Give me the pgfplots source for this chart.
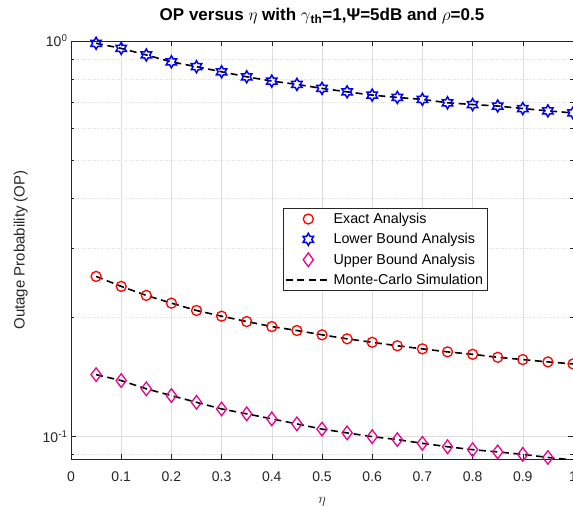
\documentclass[border=0pt]{standalone}
\usepackage{pgfplots}
\pgfplotsset{compat=1.18}
\usepackage{pgfplotstable}
\usepackage{fontspec}
\setmainfont{Liberation Sans}

\pgfdeclareplotmark{hexagram}{%
  \pgfpathmoveto{\pgfpointpolar{90}{\pgfplotmarksize}}%
  \pgfpathlineto{\pgfpointpolar{120}{0.577\pgfplotmarksize}}%
  \pgfpathlineto{\pgfpointpolar{150}{\pgfplotmarksize}}%
  \pgfpathlineto{\pgfpointpolar{180}{0.577\pgfplotmarksize}}%
  \pgfpathlineto{\pgfpointpolar{210}{\pgfplotmarksize}}%
  \pgfpathlineto{\pgfpointpolar{240}{0.577\pgfplotmarksize}}%
  \pgfpathlineto{\pgfpointpolar{270}{\pgfplotmarksize}}%
  \pgfpathlineto{\pgfpointpolar{300}{0.577\pgfplotmarksize}}%
  \pgfpathlineto{\pgfpointpolar{330}{\pgfplotmarksize}}%
  \pgfpathlineto{\pgfpointpolar{0}{0.577\pgfplotmarksize}}%
  \pgfpathlineto{\pgfpointpolar{30}{\pgfplotmarksize}}%
  \pgfpathlineto{\pgfpointpolar{60}{0.577\pgfplotmarksize}}%
  \pgfpathclose
  \pgfusepathqstroke}

\pgfplotstableread{
x     exact   lower  upper
0.05  0.2541  0.987  0.1435
0.10  0.2398  0.958  0.1386
0.15  0.2275  0.922  0.1321
0.20  0.2175  0.886  0.1270
0.25  0.2084  0.861  0.1221
0.30  0.2016  0.836  0.1175
0.35  0.1954  0.812  0.1142
0.40  0.1898  0.792  0.1109
0.45  0.1855  0.777  0.1077
0.50  0.1809  0.759  0.1045
0.55  0.1767  0.744  0.1022
0.60  0.1732  0.730  0.1000
0.65  0.1697  0.720  0.0983
0.70  0.1667  0.712  0.0962
0.75  0.1638  0.698  0.0943
0.80  0.1615  0.691  0.0927
0.85  0.1587  0.685  0.0915
0.90  0.1566  0.675  0.0902
0.95  0.1545  0.666  0.0886
1.00  0.1527  0.658  0.0873
}\data

\definecolor{axgray}{rgb}{0.15,0.15,0.15}
\definecolor{gridgray}{rgb}{0.87,0.87,0.87}

\begin{document}
\begin{tikzpicture}
\begin{axis}[
  at={(0,0)}, anchor=south west,
  scale only axis, width=502pt, height=418pt,
  xmin=0, xmax=1, ymode=log, ymin=0.0878, ymax=1,
  xtick={0,0.1,0.2,0.3,0.4,0.5,0.6,0.7,0.8,0.9,1},
  xticklabels={0,0.1,0.2,0.3,0.4,0.5,0.6,0.7,0.8,0.9,1},
  ytick={0.1,1},
  yticklabels={10\textsuperscript{-1},10\textsuperscript{0}},
  minor ytick={0.09,0.2,0.3,0.4,0.5,0.6,0.7,0.8,0.9},
  grid=both,
  major grid style={gridgray, line width=0.6pt},
  minor grid style={gridgray, dotted, line width=0.6pt},
  tick align=inside, tick pos=both,
  major tick length=5pt, minor tick length=3pt,
  axis line style={draw=axgray, line width=0.6pt},
  every tick/.style={axgray, line width=0.6pt},
  ticklabel style={font=\fontsize{14}{16}\selectfont, text=axgray},
  xticklabel style={yshift=-9pt},
  title={\textbf{OP versus $\eta$ with $\gamma$\textsubscript{th}=1,Ψ=5dB and $\rho$=0.5}},
  title style={at={(axis description cs:0.5,1.0347)}, anchor=base, font=\fontsize{17}{19}\selectfont},
  xlabel={$\eta$},
  xlabel style={at={(axis description cs:0.5,-0.102)}, anchor=center, font=\fontsize{15}{17}\selectfont, text=axgray},
  ylabel={Outage Probability (OP)},
  ylabel style={at={(axis description cs:-0.1,0.5)}, anchor=center, font=\fontsize{15}{17}\selectfont, text=axgray},
  legend style={at={(axis description cs:0.4217,0.5998)}, anchor=north west,
    font=\fontsize{14.3}{15}\selectfont, draw=axgray, line width=0.6pt,
    inner xsep=2pt, inner ysep=2.5pt, row sep=4.5pt,
    nodes={inner sep=2pt}},
  legend cell align=left,
  legend image code/.code={\draw[mark repeat=2,mark phase=2,#1] plot coordinates {(0pt,0pt) (22.5pt,0pt) (45pt,0pt)};},
]
\addplot[only marks, mark=o, mark size=5pt, red, line width=1.3pt] table[x=x,y=exact] {\data};
\addlegendentry{Exact Analysis}
\addplot[only marks, mark=hexagram, mark size=6pt, blue, line width=1.5pt] table[x=x,y=lower] {\data};
\addlegendentry{Lower Bound Analysis}
\addplot[only marks, mark=diamond, mark size=6.8pt, magenta, line width=1.3pt] table[x=x,y=upper] {\data};
\addlegendentry{Upper Bound Analysis}
\addplot[black, line width=1.6pt, dash pattern=on 7pt off 4.5pt] table[x=x,y=exact] {\data};
\addlegendentry{Monte-Carlo Simulation}
\addplot[black, line width=1.6pt, dash pattern=on 7pt off 4.5pt, forget plot] table[x=x,y=lower] {\data};
\addplot[black, line width=1.6pt, dash pattern=on 7pt off 4.5pt, forget plot] table[x=x,y=upper] {\data};
\end{axis}
\pgfresetboundingbox
\useasboundingbox (-71pt,-48pt) rectangle (502pt,459pt);
\end{tikzpicture}
\end{document}
